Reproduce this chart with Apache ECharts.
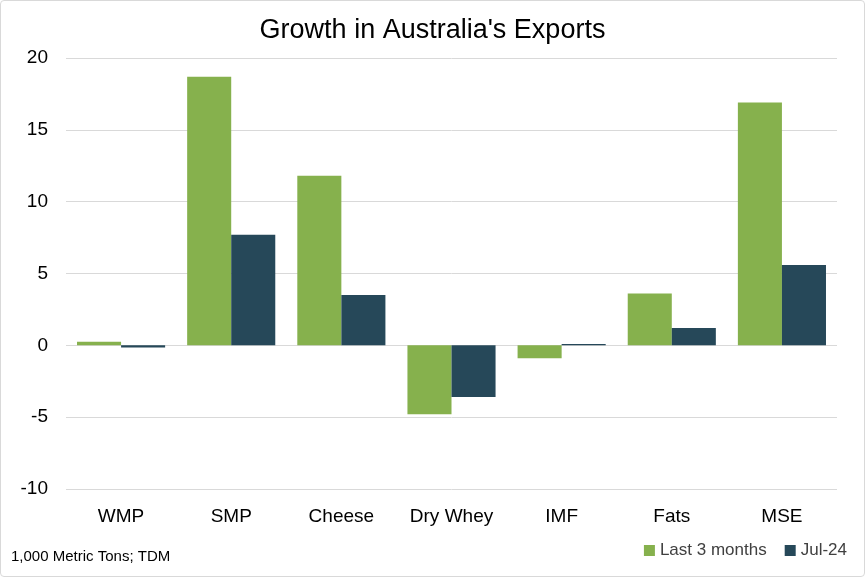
<!DOCTYPE html>
<html><head><meta charset="utf-8">
<script src="https://cdn.jsdelivr.net/npm/echarts@6/dist/echarts.min.js"></script>
<style>html,body{margin:0;padding:0;background:#fff}#c{width:865px;height:577px;box-sizing:border-box;border:1px solid #d9d9d9;border-radius:4px}</style>
</head><body><div id="c"></div>
<script>
const categories = ["WMP","SMP","Cheese","Dry Whey","IMF","Fats","MSE"];
const last3Months = [0.25, 18.7, 11.8, -4.8, -0.9, 3.6, 16.9];
const jul24 = [-0.15, 7.7, 3.5, -3.6, 0.1, 1.2, 5.6];
const yTicks = [-10, 20, 5];
const FONT = "'Liberation Sans Narrow','Liberation Sans',sans-serif";
const chart = echarts.init(document.getElementById('c'));
chart.setOption({
  animation:false,
  textStyle:{fontFamily:FONT},
  title:{text:"Growth in Australia's Exports",left:'center',top:11,textStyle:{fontFamily:FONT,fontSize:27,fontWeight:'normal',color:'#000'}},
  grid:{left:65,right:27,top:57,bottom:87},
  legend:{right:12,bottom:12,itemWidth:11,itemHeight:11,itemGap:18,icon:'rect',textStyle:{fontFamily:FONT,fontSize:17,color:'#404040'},
    data:["Last 3 months","Jul-24"]},
  graphic:[{type:'text',left:10,bottom:12,style:{text:'1,000 Metric Tons; TDM',font:"15px "+FONT,fill:'#000'}}],
  xAxis:{type:'category',data:categories,axisTick:{show:false},axisLine:{show:false},
    axisLabel:{fontFamily:FONT,fontSize:19,color:'#000',margin:18}},
  yAxis:{type:'value',min:yTicks[0],max:yTicks[1],interval:yTicks[2],
    axisLabel:{fontFamily:FONT,fontSize:19,color:'#000',margin:18},
    splitLine:{lineStyle:{color:'#d9d9d9',width:1}}},
  series:[
    {name:"Last 3 months",type:'bar',data:last3Months,barGap:'0%',barCategoryGap:'20%',itemStyle:{color:'#86B14D'}},
    {name:"Jul-24",type:'bar',data:jul24,itemStyle:{color:'#264859'}}
  ]
});
</script></body></html>
